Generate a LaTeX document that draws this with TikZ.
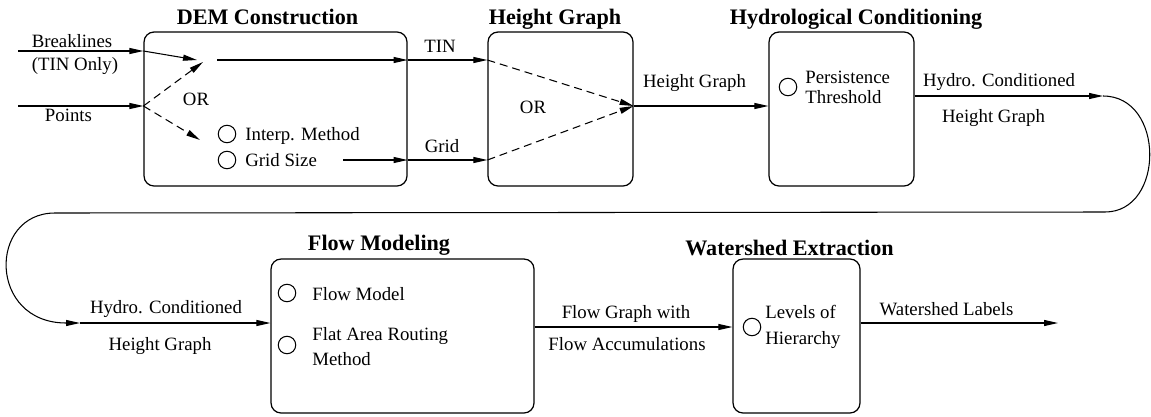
\documentclass[tikz,border=0pt]{standalone}
\usepackage{fontspec}
\setmainfont{Liberation Serif}
\usetikzlibrary{positioning,calc,arrows.meta}

\tikzset{
  stage/.style={draw, line width=0.7pt, rounded corners=0.2cm, minimum height=3.08cm, inner sep=0pt},
  ttl/.style={anchor=base, inner sep=0pt, font=\fontsize{12.6}{15}\selectfont\bfseries},
  lbl/.style={anchor=base, inner sep=0pt},
  opttxt/.style={anchor=base west, inner sep=0pt},
  opt/.style={draw, circle, line width=0.6pt, minimum size=0.35cm, inner sep=0pt},
  arr/.style={line width=0.6pt, -{Triangle[length=2.8mm,width=1.2mm]}},
  alt/.style={arr, dash pattern=on 1.6mm off 1mm}
}

\begin{document}
\begin{tikzpicture}[x=0.02cm, y=-0.02cm, font=\fontsize{10.7}{13}\selectfont]
  \useasboundingbox (0,0) rectangle (1151,416);

  % stages
  \node[stage, minimum width=5.26cm] (dem) at (275.5,109) {};
  \node[stage, minimum width=2.9cm] (hgraph) at (560.5,109) {};
  \node[stage, minimum width=2.9cm] (hydro) at (841.5,109) {};
  \node[stage, minimum width=5.26cm] (flow) at (402.5,336) {};
  \node[stage, minimum width=2.54cm] (shed) at (796.5,336) {};

  \node[ttl] (demT) at (267.5,24) {DEM Construction};
  \node[ttl] (hgraphT) at (555,24) {Height Graph};
  \node[ttl] (hydroT) at (856,24) {Hydrological Conditioning};
  \node[ttl] (flowT) at (379,250) {Flow Modeling};
  \node[ttl] (shedT) at (789.5,255) {Watershed Extraction};

  % DEM construction
  \coordinate (brkIn) at (18,51);
  \coordinate (ptsIn) at (18,106);
  \coordinate (brkTip) at (197,60);
  \coordinate (tinTip) at (203,62);
  \coordinate (gridTip) at (200,140);
  \coordinate (tinSrc) at (217,60);
  \coordinate (gridSrc) at (343,160);
  \draw[arr] (brkIn) -- (dem.west |- brkIn);
  \node[lbl] (brkA) at (72,47) {Breaklines};
  \node[lbl] (brkB) at (75,70) {(TIN Only)};
  \draw[arr] (ptsIn) -- (dem.west |- ptsIn);
  \node[lbl] (pts) at (68.5,121) {Points};
  \draw[arr] (dem.west |- brkIn) -- (brkTip);
  \draw[alt] (dem.west |- ptsIn) -- (tinTip);
  \draw[alt] (dem.west |- ptsIn) -- (gridTip);
  \node[lbl] (or1) at (196,105) {OR};
  \node[opt] (interpC) at (227,134) {};
  \node[opttxt] (interp) at (245,140) {Interp. Method};
  \node[opt] (sizeC) at (227,160) {};
  \node[opttxt] (size) at (245,166) {Grid Size};
  \draw[arr] (tinSrc) -- (dem.east |- tinSrc);
  \draw[arr] (gridSrc) -- (dem.east |- gridSrc);

  % height graph
  \coordinate (hgJoin) at (hgraph.east |- 0,106);
  \draw[arr] (dem.east |- tinSrc) -- (hgraph.west |- tinSrc);
  \node[lbl] (tinL) at (440,52) {TIN};
  \draw[arr] (dem.east |- gridSrc) -- (hgraph.west |- gridSrc);
  \node[lbl] (gridL) at (442,152) {Grid};
  \draw[alt] (hgraph.west |- tinSrc) -- (hgJoin);
  \draw[alt] (hgraph.west |- gridSrc) -- (hgJoin);
  \node[lbl] (or2) at (533,113) {OR};
  \draw[arr] (hgJoin) -- (hydro.west |- hgJoin);
  \node[lbl] (hgL) at (694.5,87) {Height Graph};

  % hydrological conditioning
  \node[opt] (persC) at (788,87) {};
  \node[opttxt] (persA) at (805,83) {Persistence};
  \node[opttxt] (persB) at (805,103) {Threshold};
  \coordinate (hyOut) at (hydro.east |- 0,96);
  \coordinate (loopA) at (1103,96);
  \coordinate (loopB) at (80,323);
  \draw[arr] (hyOut) -- (loopA);
  \node[lbl] (hyA) at (999,86) {Hydro. Conditioned};
  \node[lbl] (hyB) at (993.5,122) {Height Graph};
  \draw[arr] (loopA) .. controls (1165,96) and (1165,212) .. (1105,212)
    -- (55,213) .. controls (-12,213) and (-12,323) .. (loopB);

  % flow modeling
  \draw[arr] (loopB) -- (flow.west |- loopB);
  \node[lbl] (hyC) at (166,313) {Hydro. Conditioned};
  \node[lbl] (hyD) at (160,350) {Height Graph};
  \node[opt] (modelC) at (287,293) {};
  \node[opttxt] (model) at (312,300) {Flow Model};
  \node[opt] (flatC) at (287,345) {};
  \node[opttxt] (flatA) at (312,340) {Flat Area Routing};
  \node[opttxt] (flatB) at (312,365) {Method};
  \coordinate (flOut) at (flow.east |- 0,327);
  \draw[arr] (flOut) -- (shed.west |- flOut);
  \node[lbl] (accA) at (626,318) {Flow Graph with};
  \node[lbl] (accB) at (627,350) {Flow Accumulations};

  % watershed extraction
  \node[opt] (lvlC) at (752,327) {};
  \node[opttxt] (lvlA) at (765,318) {Levels of};
  \node[opttxt] (lvlB) at (765,344) {Hierarchy};
  \coordinate (shOut) at (shed.east |- 0,323);
  \coordinate (shEnd) at (1058,323);
  \draw[arr] (shOut) -- (shEnd);
  \node[lbl] (shL) at (946.5,315) {Watershed Labels};
\end{tikzpicture}
\end{document}
